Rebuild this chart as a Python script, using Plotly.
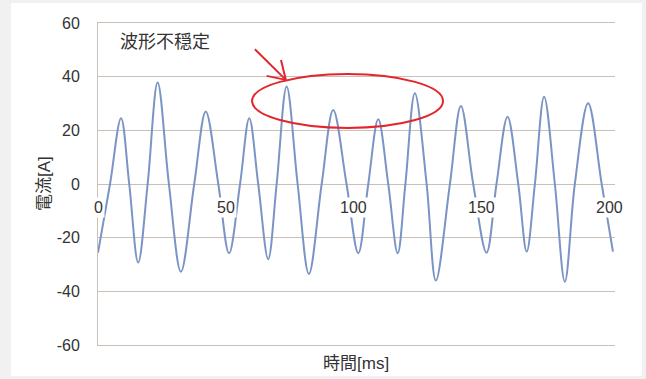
import plotly.graph_objects as go

# ---- data ----
time_ms = [0, 4.7, 9.0, 12.2, 15.7, 19.4, 23.3, 27.7, 32.4, 37.6, 42.1, 47.0,
           51.2, 55.5, 59.1, 62.6, 66.5, 69.8, 73.7, 78.0, 82.4, 87.4, 91.9, 97.1,
           101.7, 105.6, 109.5, 113.4, 117.1, 120.1, 123.8, 128.4, 132.0, 137.5,
           141.8, 146.6, 151.8, 155.7, 160.0, 164.2, 167.5, 170.7, 174.3, 178.5,
           182.4, 186.3, 191.5, 196.8, 201.2]
current_a = [-25.6, 0, 24.5, 0, -29.3, 0, 37.8, 0, -32.7, 0, 27.0, 0,
             -25.8, 0, 24.5, 0, -28.0, 0, 36.3, 0, -33.5, 0, 27.6, 0,
             -25.8, 0, 24.1, 0, -25.8, 0, 33.8, 0, -36.0, 0,
             29.1, 0, -25.6, 0, 25.1, 0, -25.2, 0, 32.5, 0,
             -36.4, 0, 30.1, 0, -25.2]

x_ticks = [0, 50, 100, 150, 200]
y_ticks = [-60, -40, -20, 0, 20, 40, 60]

x_title = "時間[ms]"
y_title = "電流[A]"
note_text = "波形不穏定"

FONT = "Liberation Sans, Arial, Noto Sans CJK JP, sans-serif"
GRID = "#cbbfb8"
TXT = "#333333"
RED = "#e3262b"

fig = go.Figure()
fig.add_trace(go.Scatter(
    x=time_ms, y=current_a, mode="lines",
    line=dict(color="#7b94c6", width=2, shape="spline", smoothing=1.0),
    showlegend=False, hoverinfo="skip",
))

W, H = 646, 379
ml, mr, mt, mb = 98, 31, 23, 34
pw, ph = W - ml - mr, H - mt - mb

def px_x(p):
    return (p - ml) / pw

def px_y(p):
    return (H - mb - p) / ph

# light-grey frame with white card
fig.add_shape(type="rect", xref="paper", yref="paper", layer="below",
              x0=px_x(11), x1=px_x(642), y0=px_y(376), y1=px_y(3),
              fillcolor="white", line=dict(width=0))

# x tick labels sitting on the zero line, with white boxes
for v in x_ticks:
    fig.add_annotation(x=v, y=0, xref="x", yref="y", text=str(v),
                       showarrow=False, yshift=-23, xanchor="center", yanchor="middle",
                       bgcolor="white", borderpad=1,
                       font=dict(family=FONT, size=16, color=TXT))

# axis titles
fig.add_annotation(x=px_x(356), y=px_y(363), xref="paper", yref="paper",
                   text=x_title, showarrow=False, xanchor="center", yanchor="middle",
                   font=dict(family=FONT, size=17, color=TXT))
fig.add_annotation(x=px_x(44), y=0.5, xref="paper", yref="paper",
                   text=y_title, showarrow=False, textangle=-90,
                   xanchor="center", yanchor="middle", bgcolor="white",
                   font=dict(family=FONT, size=17, color=TXT))

# note text
fig.add_annotation(x=7.8, y=52.9, xref="x", yref="y", text=note_text,
                   showarrow=False, xanchor="left", yanchor="middle",
                   font=dict(family=FONT, size=18, color=TXT))

# red ellipse
fig.add_shape(type="circle", xref="x", yref="y",
              x0=60.2, x1=134.8, y0=20.9, y1=41.0,
              line=dict(color=RED, width=2))

# red arrow (shaft + two head strokes)
tip = (73.4, 38.8)
for (sx, sy) in [(61.3, 50.2), (71.5, 46.2), (65.9, 40.3)]:
    fig.add_shape(type="line", xref="x", yref="y",
                  x0=sx, y0=sy, x1=tip[0], y1=tip[1],
                  line=dict(color=RED, width=2))

fig.update_xaxes(range=[0, 202], showgrid=False, zeroline=False,
                 showticklabels=False, ticks="",
                 showline=True, linecolor=GRID, linewidth=1, mirror=True)
fig.update_yaxes(range=[-60, 60], tickvals=y_ticks, ticktext=[str(v) for v in y_ticks],
                 showgrid=True, gridcolor=GRID, gridwidth=1,
                 zeroline=True, zerolinecolor=GRID, zerolinewidth=1,
                 showline=True, linecolor=GRID, linewidth=1, mirror=False,
                 ticks="", ticklabelstandoff=14,
                 tickfont=dict(family=FONT, size=16, color=TXT))

fig.update_layout(
    width=W, height=H,
    margin=dict(l=ml, r=mr, t=mt, b=mb),
    paper_bgcolor="#f1f1f1", plot_bgcolor="white",
    font=dict(family=FONT, color=TXT),
)

fig.write_html("out.html",
               config={"displayModeBar": False, "staticPlot": True},
               post_script="document.body.style.margin='0';document.body.style.overflow='hidden';")
